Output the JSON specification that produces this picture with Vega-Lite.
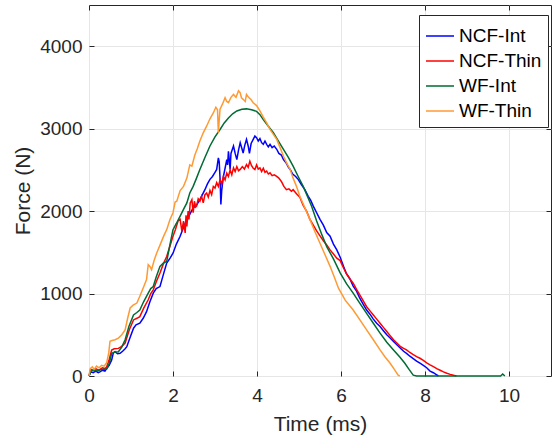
{
"$schema": "https://vega.github.io/schema/vega-lite/v6.json",
"width": 462, "height": 371,
"autosize": {"type": "none"},
"padding": {"left": 89, "top": 5, "right": 1, "bottom": 68},
"config": {
  "font": "Liberation Sans",
  "view": {"stroke": "#262626", "strokeWidth": 1},
  "axis": {"labelColor": "#262626", "titleColor": "#262626", "labelFontSize": 19, "titleFontSize": 21, "titleFontWeight": "normal", "tickColor": "#262626", "gridColor": "#e6e6e6", "domain": false, "labelFlush": false}
},
"datasets": {
"NI": [{"t":0,"F":0},{"t":0.04,"F":50},{"t":0.1,"F":40},{"t":0.16,"F":60},{"t":0.22,"F":40},{"t":0.26,"F":50},{"t":0.32,"F":70},{"t":0.38,"F":60},{"t":0.42,"F":90},{"t":0.48,"F":130},{"t":0.54,"F":195},{"t":0.58,"F":280},{"t":0.62,"F":295},{"t":0.68,"F":270},{"t":0.74,"F":275},{"t":0.8,"F":300},{"t":0.86,"F":330},{"t":0.9,"F":355},{"t":0.98,"F":470},{"t":1.06,"F":580},{"t":1.12,"F":620},{"t":1.21,"F":640},{"t":1.29,"F":700},{"t":1.37,"F":780},{"t":1.45,"F":900},{"t":1.53,"F":1005},{"t":1.6,"F":1060},{"t":1.69,"F":1085},{"t":1.77,"F":1230},{"t":1.85,"F":1370},{"t":1.93,"F":1430},{"t":2.0,"F":1490},{"t":2.08,"F":1600},{"t":2.17,"F":1695},{"t":2.25,"F":1800},{"t":2.33,"F":1900},{"t":2.4,"F":1960},{"t":2.48,"F":2040},{"t":2.56,"F":2070},{"t":2.64,"F":2140},{"t":2.7,"F":2200},{"t":2.76,"F":2260},{"t":2.82,"F":2330},{"t":2.88,"F":2385},{"t":2.94,"F":2420},{"t":3.0,"F":2470},{"t":3.04,"F":2505},{"t":3.08,"F":2645},{"t":3.1,"F":2600},{"t":3.12,"F":2400},{"t":3.14,"F":2080},{"t":3.16,"F":2250},{"t":3.2,"F":2420},{"t":3.24,"F":2520},{"t":3.28,"F":2625},{"t":3.3,"F":2560},{"t":3.32,"F":2725},{"t":3.34,"F":2620},{"t":3.36,"F":2505},{"t":3.38,"F":2700},{"t":3.42,"F":2760},{"t":3.44,"F":2790},{"t":3.48,"F":2700},{"t":3.52,"F":2625},{"t":3.56,"F":2740},{"t":3.6,"F":2830},{"t":3.64,"F":2760},{"t":3.67,"F":2705},{"t":3.71,"F":2800},{"t":3.75,"F":2870},{"t":3.79,"F":2790},{"t":3.82,"F":2700},{"t":3.86,"F":2820},{"t":3.91,"F":2870},{"t":3.95,"F":2910},{"t":3.99,"F":2890},{"t":4.03,"F":2850},{"t":4.07,"F":2880},{"t":4.11,"F":2830},{"t":4.15,"F":2810},{"t":4.19,"F":2850},{"t":4.23,"F":2810},{"t":4.27,"F":2780},{"t":4.31,"F":2810},{"t":4.36,"F":2770},{"t":4.41,"F":2790},{"t":4.47,"F":2750},{"t":4.52,"F":2700},{"t":4.58,"F":2680},{"t":4.63,"F":2625},{"t":4.7,"F":2580},{"t":4.75,"F":2530},{"t":4.79,"F":2505},{"t":4.85,"F":2450},{"t":4.92,"F":2420},{"t":4.98,"F":2385},{"t":5.06,"F":2320},{"t":5.14,"F":2260},{"t":5.22,"F":2180},{"t":5.28,"F":2130},{"t":5.34,"F":2060},{"t":5.42,"F":1980},{"t":5.5,"F":1900},{"t":5.58,"F":1830},{"t":5.66,"F":1740},{"t":5.74,"F":1695},{"t":5.82,"F":1600},{"t":5.9,"F":1530},{"t":5.98,"F":1440},{"t":6.06,"F":1330},{"t":6.13,"F":1240},{"t":6.21,"F":1180},{"t":6.29,"F":1090},{"t":6.37,"F":1030},{"t":6.45,"F":940},{"t":6.53,"F":870},{"t":6.61,"F":800},{"t":6.69,"F":750},{"t":6.77,"F":690},{"t":6.85,"F":640},{"t":6.93,"F":600},{"t":7.01,"F":550},{"t":7.09,"F":500},{"t":7.17,"F":460},{"t":7.25,"F":420},{"t":7.33,"F":380},{"t":7.41,"F":340},{"t":7.49,"F":300},{"t":7.56,"F":275},{"t":7.64,"F":240},{"t":7.72,"F":210},{"t":7.8,"F":180},{"t":7.88,"F":155},{"t":7.96,"F":130},{"t":8.04,"F":100},{"t":8.12,"F":60},{"t":8.2,"F":40},{"t":8.26,"F":20},{"t":8.32,"F":0}],
"NT": [{"t":0,"F":0},{"t":0.04,"F":80},{"t":0.1,"F":70},{"t":0.16,"F":90},{"t":0.22,"F":70},{"t":0.26,"F":80},{"t":0.32,"F":100},{"t":0.38,"F":90},{"t":0.42,"F":110},{"t":0.48,"F":200},{"t":0.54,"F":315},{"t":0.6,"F":330},{"t":0.7,"F":335},{"t":0.78,"F":360},{"t":0.86,"F":400},{"t":0.96,"F":560},{"t":1.06,"F":680},{"t":1.14,"F":700},{"t":1.21,"F":720},{"t":1.3,"F":820},{"t":1.41,"F":925},{"t":1.47,"F":1000},{"t":1.53,"F":1045},{"t":1.6,"F":1140},{"t":1.69,"F":1250},{"t":1.77,"F":1360},{"t":1.85,"F":1450},{"t":1.93,"F":1580},{"t":2.0,"F":1695},{"t":2.06,"F":1780},{"t":2.12,"F":1880},{"t":2.17,"F":1900},{"t":2.21,"F":1760},{"t":2.25,"F":1880},{"t":2.29,"F":1735},{"t":2.31,"F":1950},{"t":2.33,"F":1815},{"t":2.36,"F":2000},{"t":2.38,"F":1900},{"t":2.41,"F":2100},{"t":2.45,"F":2140},{"t":2.48,"F":1980},{"t":2.51,"F":2120},{"t":2.54,"F":2050},{"t":2.56,"F":2060},{"t":2.6,"F":2150},{"t":2.64,"F":2120},{"t":2.68,"F":2180},{"t":2.72,"F":2100},{"t":2.76,"F":2200},{"t":2.8,"F":2220},{"t":2.84,"F":2170},{"t":2.88,"F":2250},{"t":2.92,"F":2200},{"t":2.96,"F":2300},{"t":3.0,"F":2280},{"t":3.04,"F":2345},{"t":3.08,"F":2300},{"t":3.12,"F":2380},{"t":3.16,"F":2330},{"t":3.2,"F":2420},{"t":3.24,"F":2380},{"t":3.28,"F":2460},{"t":3.32,"F":2420},{"t":3.36,"F":2500},{"t":3.4,"F":2440},{"t":3.44,"F":2525},{"t":3.48,"F":2480},{"t":3.52,"F":2540},{"t":3.56,"F":2490},{"t":3.6,"F":2505},{"t":3.65,"F":2540},{"t":3.7,"F":2510},{"t":3.75,"F":2565},{"t":3.79,"F":2530},{"t":3.83,"F":2605},{"t":3.87,"F":2550},{"t":3.91,"F":2520},{"t":3.95,"F":2505},{"t":3.99,"F":2560},{"t":4.03,"F":2510},{"t":4.07,"F":2525},{"t":4.11,"F":2480},{"t":4.15,"F":2520},{"t":4.19,"F":2470},{"t":4.23,"F":2485},{"t":4.27,"F":2450},{"t":4.31,"F":2465},{"t":4.36,"F":2430},{"t":4.41,"F":2440},{"t":4.47,"F":2420},{"t":4.52,"F":2400},{"t":4.58,"F":2360},{"t":4.64,"F":2300},{"t":4.7,"F":2260},{"t":4.76,"F":2270},{"t":4.82,"F":2240},{"t":4.86,"F":2260},{"t":4.94,"F":2210},{"t":5.02,"F":2170},{"t":5.1,"F":2070},{"t":5.18,"F":2000},{"t":5.26,"F":1900},{"t":5.34,"F":1830},{"t":5.42,"F":1760},{"t":5.5,"F":1700},{"t":5.58,"F":1640},{"t":5.66,"F":1590},{"t":5.74,"F":1530},{"t":5.82,"F":1480},{"t":5.9,"F":1430},{"t":5.98,"F":1400},{"t":6.06,"F":1310},{"t":6.13,"F":1240},{"t":6.21,"F":1180},{"t":6.29,"F":1125},{"t":6.37,"F":1050},{"t":6.45,"F":980},{"t":6.53,"F":910},{"t":6.61,"F":840},{"t":6.69,"F":790},{"t":6.77,"F":740},{"t":6.85,"F":690},{"t":6.93,"F":640},{"t":7.01,"F":590},{"t":7.09,"F":540},{"t":7.17,"F":490},{"t":7.25,"F":440},{"t":7.33,"F":400},{"t":7.41,"F":360},{"t":7.49,"F":335},{"t":7.56,"F":316},{"t":7.64,"F":285},{"t":7.72,"F":260},{"t":7.8,"F":235},{"t":7.88,"F":215},{"t":7.96,"F":190},{"t":8.04,"F":160},{"t":8.12,"F":135},{"t":8.2,"F":113},{"t":8.28,"F":90},{"t":8.36,"F":70},{"t":8.44,"F":50},{"t":8.52,"F":33},{"t":8.6,"F":20},{"t":8.68,"F":8},{"t":8.75,"F":0}],
"WI": [{"t":0,"F":0},{"t":0.05,"F":60},{"t":0.1,"F":70},{"t":0.2,"F":60},{"t":0.3,"F":80},{"t":0.42,"F":85},{"t":0.48,"F":150},{"t":0.54,"F":275},{"t":0.62,"F":290},{"t":0.7,"F":295},{"t":0.78,"F":350},{"t":0.86,"F":440},{"t":0.95,"F":600},{"t":1.06,"F":740},{"t":1.14,"F":770},{"t":1.21,"F":800},{"t":1.3,"F":900},{"t":1.41,"F":1005},{"t":1.47,"F":1060},{"t":1.53,"F":1085},{"t":1.6,"F":1200},{"t":1.69,"F":1330},{"t":1.77,"F":1370},{"t":1.85,"F":1390},{"t":1.93,"F":1600},{"t":2.0,"F":1775},{"t":2.08,"F":1850},{"t":2.17,"F":1940},{"t":2.25,"F":2020},{"t":2.33,"F":2100},{"t":2.4,"F":2220},{"t":2.48,"F":2300},{"t":2.56,"F":2400},{"t":2.64,"F":2505},{"t":2.76,"F":2650},{"t":2.88,"F":2790},{"t":3.0,"F":2900},{"t":3.12,"F":2990},{"t":3.22,"F":3070},{"t":3.32,"F":3130},{"t":3.42,"F":3180},{"t":3.52,"F":3215},{"t":3.64,"F":3235},{"t":3.75,"F":3240},{"t":3.87,"F":3230},{"t":3.99,"F":3210},{"t":4.07,"F":3170},{"t":4.15,"F":3110},{"t":4.27,"F":3030},{"t":4.39,"F":2950},{"t":4.51,"F":2850},{"t":4.63,"F":2750},{"t":4.75,"F":2650},{"t":4.86,"F":2545},{"t":4.98,"F":2420},{"t":5.1,"F":2300},{"t":5.2,"F":2180},{"t":5.3,"F":2060},{"t":5.42,"F":1880},{"t":5.54,"F":1720},{"t":5.66,"F":1570},{"t":5.82,"F":1420},{"t":5.98,"F":1250},{"t":6.13,"F":1120},{"t":6.29,"F":1005},{"t":6.45,"F":880},{"t":6.61,"F":760},{"t":6.77,"F":640},{"t":6.93,"F":520},{"t":7.09,"F":410},{"t":7.25,"F":316},{"t":7.4,"F":230},{"t":7.52,"F":155},{"t":7.62,"F":80},{"t":7.72,"F":10},{"t":7.8,"F":0},{"t":9.8,"F":0},{"t":9.85,"F":25},{"t":9.9,"F":0}],
"WT": [{"t":0,"F":0},{"t":0.03,"F":90},{"t":0.08,"F":110},{"t":0.12,"F":80},{"t":0.18,"F":120},{"t":0.24,"F":100},{"t":0.3,"F":130},{"t":0.36,"F":120},{"t":0.42,"F":160},{"t":0.47,"F":280},{"t":0.5,"F":420},{"t":0.55,"F":430},{"t":0.62,"F":440},{"t":0.7,"F":460},{"t":0.78,"F":500},{"t":0.86,"F":560},{"t":0.92,"F":700},{"t":0.98,"F":825},{"t":1.05,"F":860},{"t":1.14,"F":885},{"t":1.22,"F":980},{"t":1.3,"F":1080},{"t":1.37,"F":1170},{"t":1.41,"F":1350},{"t":1.45,"F":1330},{"t":1.49,"F":1290},{"t":1.55,"F":1400},{"t":1.61,"F":1490},{"t":1.7,"F":1600},{"t":1.78,"F":1700},{"t":1.85,"F":1775},{"t":1.93,"F":1900},{"t":2.0,"F":1980},{"t":2.05,"F":2110},{"t":2.09,"F":2120},{"t":2.17,"F":2250},{"t":2.25,"F":2300},{"t":2.33,"F":2400},{"t":2.4,"F":2560},{"t":2.45,"F":2545},{"t":2.52,"F":2680},{"t":2.58,"F":2760},{"t":2.64,"F":2850},{"t":2.72,"F":2950},{"t":2.8,"F":3030},{"t":2.88,"F":3120},{"t":2.96,"F":3190},{"t":3.02,"F":3260},{"t":3.06,"F":3230},{"t":3.08,"F":2950},{"t":3.1,"F":3100},{"t":3.12,"F":3235},{"t":3.18,"F":3300},{"t":3.24,"F":3375},{"t":3.28,"F":3330},{"t":3.32,"F":3315},{"t":3.38,"F":3380},{"t":3.44,"F":3415},{"t":3.5,"F":3380},{"t":3.56,"F":3460},{"t":3.6,"F":3435},{"t":3.63,"F":3375},{"t":3.68,"F":3350},{"t":3.72,"F":3330},{"t":3.75,"F":3415},{"t":3.8,"F":3380},{"t":3.86,"F":3350},{"t":3.91,"F":3315},{"t":3.99,"F":3280},{"t":4.07,"F":3215},{"t":4.15,"F":3140},{"t":4.23,"F":3070},{"t":4.31,"F":2990},{"t":4.39,"F":2930},{"t":4.47,"F":2870},{"t":4.55,"F":2770},{"t":4.63,"F":2665},{"t":4.71,"F":2580},{"t":4.79,"F":2505},{"t":4.86,"F":2400},{"t":4.94,"F":2300},{"t":5.02,"F":2180},{"t":5.14,"F":2040},{"t":5.26,"F":1900},{"t":5.38,"F":1750},{"t":5.5,"F":1610},{"t":5.62,"F":1470},{"t":5.74,"F":1330},{"t":5.84,"F":1200},{"t":5.94,"F":1065},{"t":6.1,"F":920},{"t":6.29,"F":800},{"t":6.45,"F":680},{"t":6.61,"F":560},{"t":6.77,"F":440},{"t":6.93,"F":316},{"t":7.05,"F":230},{"t":7.17,"F":155},{"t":7.27,"F":80},{"t":7.36,"F":10},{"t":7.4,"F":0}]
},
"layer": [
  {
    "encoding": {
      "x": {"field": "t", "type": "quantitative", "scale": {"domain": [0, 11], "nice": false, "zero": false},
            "axis": {"values": [0,2,4,6,8,10], "title": "Time (ms)", "grid": true, "tickSize": -5, "labelPadding": 15, "titlePadding": 8}},
      "y": {"field": "F", "type": "quantitative", "scale": {"domain": [0, 4500], "nice": false},
            "axis": {"values": [0,1000,2000,3000,4000], "format": "d", "title": "Force (N)", "grid": true, "tickSize": -5, "labelPadding": 12, "titlePadding": 6}}
    },
    "layer": [
      {"data": {"name": "NI"}, "mark": {"type": "line", "strokeWidth": 1.5},
       "encoding": {"color": {"datum": "NCF-Int", "type": "nominal",
          "scale": {"domain": ["NCF-Int", "NCF-Thin", "WF-Int", "WF-Thin"], "range": ["#0000ff", "#ff0000", "#006b33", "#ff9a33"]},
          "legend": {"orient": "none", "legendX": 330, "legendY": 10, "title": null, "strokeColor": "#262626", "fillColor": "white", "padding": 6, "labelFontSize": 19, "labelColor": "black", "symbolType": "stroke", "symbolSize": 784, "symbolStrokeWidth": 1.5, "labelOffset": 4, "rowPadding": 0}}}},
      {"data": {"name": "NT"}, "mark": {"type": "line", "strokeWidth": 1.5},
       "encoding": {"color": {"datum": "NCF-Thin", "type": "nominal"}}},
      {"data": {"name": "WI"}, "mark": {"type": "line", "strokeWidth": 1.5},
       "encoding": {"color": {"datum": "WF-Int", "type": "nominal"}}},
      {"data": {"name": "WT"}, "mark": {"type": "line", "strokeWidth": 1.5},
       "encoding": {"color": {"datum": "WF-Thin", "type": "nominal"}}}
    ]
  },
  {"data": {"name": "WT"}, "mark": {"type": "line", "opacity": 0},
   "encoding": {
     "x": {"field": "t", "type": "quantitative", "axis": {"orient": "top", "values": [0,2,4,6,8,10], "labels": false, "title": null, "grid": false, "tickSize": -5}},
     "y": {"field": "F", "type": "quantitative", "axis": {"orient": "right", "values": [0,1000,2000,3000,4000], "labels": false, "title": null, "grid": false, "tickSize": -5}}
   }}
],
"resolve": {"axis": {"x": "independent", "y": "independent"}}
}
